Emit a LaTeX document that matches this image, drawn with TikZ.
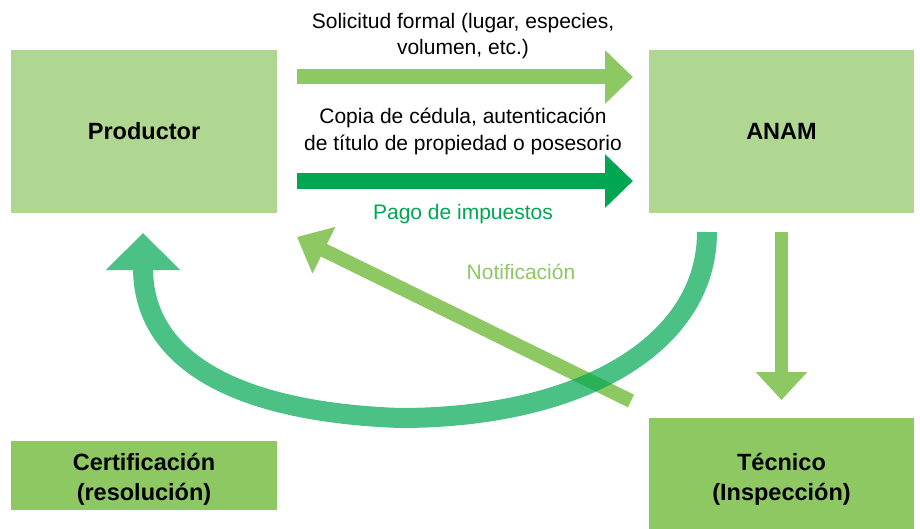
\documentclass[tikz,border=0pt]{standalone}
\usepackage{fontspec}
\setmainfont{Liberation Sans}
\usetikzlibrary{arrows.meta}
\definecolor{lgreen}{HTML}{8DC863}
\definecolor{pgreen}{HTML}{AFD791}
\definecolor{dgreen}{HTML}{00A651}
\begin{document}
\begin{tikzpicture}[x=1pt,y=-1pt,
  box/.style={fill=#1, draw=none, inner sep=0pt, align=center, font=\fontsize{23.5}{30}\selectfont\bfseries},
  lbl/.style={font=\fontsize{21}{26.5}\selectfont, align=center, inner sep=0pt},
  blockarrow/.style={line width=15pt, -{Triangle[length=28pt,width=52pt]}}]
\useasboundingbox (0,0) rectangle (920,529);
% boxes
\node[box=pgreen, minimum width=266pt, minimum height=163pt] (prod) at (144,131.5) {Productor};
\node[box=pgreen, minimum width=265pt, minimum height=163pt] (anam) at (781.5,131.5) {ANAM};
\node[box=lgreen, minimum width=266pt, minimum height=69pt] (cert) at (144,475.5) {};
\node[box=lgreen, minimum width=265pt, minimum height=118pt] (tec) at (781.5,477) {};
\node[box=none, fill=none] (certt) at (144,479) {Certificación\\(resolución)};
\node[box=none, fill=none] (tect) at (781.5,479) {Técnico\\(Inspección)};
% coordinates
\coordinate (a1s) at (297,77);
\coordinate (a1e) at (633,77);
\coordinate (a2s) at (297,181);
\coordinate (a2e) at (633,181);
\coordinate (ds) at (631,401);
\coordinate (de) at (297,237);
\coordinate (vs) at (781.5,232);
\coordinate (ve) at (781.5,400);
\coordinate (cs) at (707,232);
\coordinate (cm) at (400,418);
\coordinate (ce) at (143,233);
% arrows
\draw[blockarrow, draw=lgreen, fill=lgreen] (a1s) -- (a1e);
\draw[blockarrow, draw=dgreen, fill=dgreen, line width=16pt] (a2s) -- (a2e);
\draw[draw=lgreen, line width=14pt, -{Triangle[length=30pt,width=50pt]}] (ds) -- (de);
\draw[draw=lgreen, line width=13pt, -{Triangle[length=28pt,width=50pt]}] (vs) -- (ve);
\begin{scope}[transparency group, opacity=0.7]
\draw[draw=dgreen, line width=20pt, -{Triangle[length=37pt,width=72pt]}]
  (cs) .. controls (707,345) and (580,418) .. (cm)
       .. controls (235,412) and (143,360) .. (ce);
\end{scope}
% labels
\node[lbl] (l1) at (463,36) {Solicitud formal (lugar, especies,\\volumen, etc.)};
\node[lbl] (l2) at (463,131.5) {Copia de cédula, autenticación\\de título de propiedad o posesorio};
\node[lbl, text=dgreen] (l3) at (463,214) {Pago de impuestos};
\node[lbl, text=lgreen] (l4) at (521,272) {Notificación};
\end{tikzpicture}
\end{document}
